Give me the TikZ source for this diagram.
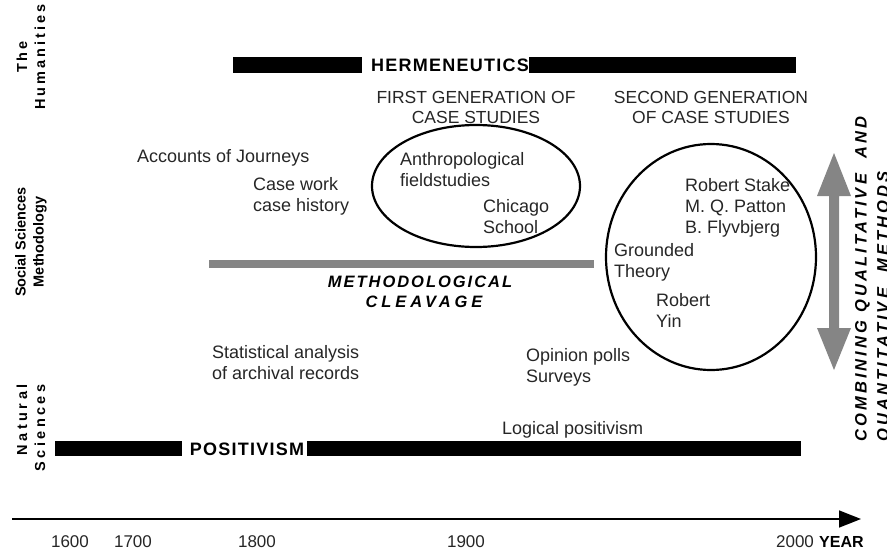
\documentclass[tikz,border=0pt]{standalone}
\usepackage{fontspec}
\setmainfont{Liberation Sans}
\newfontfamily\spacedA[LetterSpace=21]{Liberation Sans}
\newfontfamily\spacedC[LetterSpace=7]{Liberation Sans}
\newfontfamily\spacedD[LetterSpace=12]{Liberation Sans}
\newfontfamily\spacedE[LetterSpace=24]{Liberation Sans}
\newfontfamily\spacedF[LetterSpace=19]{Liberation Sans}
\newfontfamily\spacedG[LetterSpace=24]{Liberation Sans}
\usetikzlibrary{arrows.meta}
\definecolor{txt}{HTML}{262626}
\definecolor{bargray}{HTML}{858585}
\tikzset{
  lbl/.style={font=\fontsize{18}{21}\selectfont, inner sep=0pt, align=left, text=txt, anchor=west},
  head/.style={font=\fontsize{17.5}{20}\selectfont, inner sep=0pt, align=center, text=txt},
  yr/.style={font=\fontsize{17}{20}\selectfont, inner sep=0pt, text=txt},
  side/.style={rotate=90, inner sep=0pt},
  big/.style={font=\spacedC\bfseries\fontsize{18}{20}\selectfont, inner sep=0pt},
  blackbar/.style={fill=black},
  ell/.style={draw=black, line width=2.2pt},
}
\begin{document}
\begin{tikzpicture}[x=1pt,y=-1pt]
\useasboundingbox (0,0) rectangle (887,552);

% side labels
\node[side, align=center, font=\spacedA\bfseries\fontsize{14.5}{18}\selectfont] (hum) at (31,57) {The\\Humanities};
\node[side, align=center, font=\bfseries\fontsize{14.5}{18}\selectfont] (soc) at (31,242) {Social Sciences\\Methodology};
\node[side, align=right, font=\spacedG\bfseries\fontsize{14.5}{18}\selectfont] (nat) at (31,428) {Natural\\Sciences};

% hermeneutics bar
\fill[blackbar] (233,57) rectangle (362,73);
\node[big] (herm) at (450,65) {HERMENEUTICS};
\fill[blackbar] (529,57) rectangle (796,73);

% headings
\node[head] (first) at (476,107) {FIRST GENERATION OF\\CASE STUDIES};
\node[head] (second) at (711,107) {SECOND GENERATION\\OF CASE STUDIES};

% ellipses
\draw[ell] (476,186) ellipse [x radius=104, y radius=61];
\draw[ell] (711,257) ellipse [x radius=105, y radius=113];

% texts
\node[lbl] (acc) at (137,158) {Accounts of Journeys};
\node[lbl] (case) at (253,196) {Case work\\case history};
\node[lbl] (anth) at (400,170) {Anthropological\\fieldstudies};
\node[lbl] (chic) at (483,216.5) {Chicago\\School};
\node[lbl] (stake) at (685,208) {Robert Stake\\M. Q. Patton\\B. Flyvbjerg};
\node[lbl] (gt) at (614,262.5) {Grounded\\Theory};
\node[lbl] (yin) at (656,310) {Robert\\Yin};
\node[lbl] (stat) at (212,362.5) {Statistical analysis\\of archival records};
\node[lbl] (opin) at (526,367) {Opinion polls\\Surveys};
\node[lbl] (logi) at (502,430) {Logical positivism};

% methodological cleavage
\fill[bargray] (209,260) rectangle (594,268);
\node[inner sep=0pt, font=\spacedD\bfseries\itshape\fontsize{16.5}{20}\selectfont] (meth) at (420,282) {METHODOLOGICAL};
\node[inner sep=0pt, font=\spacedE\bfseries\itshape\fontsize{16.5}{20}\selectfont] (cleav) at (424,302) {CLEAVAGE};

% positivism bar
\fill[blackbar] (55,441) rectangle (182,456);
\node[big] (posi) at (247,449) {POSITIVISM};
\fill[blackbar] (307,441) rectangle (801,456);

% double arrow
\fill[bargray] (834,153) -- (851,196) -- (839,196) -- (839,328) -- (851,328)
  -- (834,370) -- (817,328) -- (829,328) -- (829,196) -- (817,196) -- cycle;
\node[rotate=90, anchor=north west, align=left, inner sep=0pt,
  font=\spacedF\bfseries\itshape\fontsize{16.5}{22}\selectfont]
  (comb) at (855,442) {COMBINING QUALITATIVE\ \ AND\\QUANTITATIVE\ \ METHODS};

% time axis
\coordinate (ax0) at (12,519);
\coordinate (ax1) at (861,519);
\draw[line width=1.6pt, -{Triangle[length=22pt,width=17pt]}] (ax0) -- (ax1);
\node[yr] (y1600) at (70,542) {1600};
\node[yr] (y1700) at (133,542) {1700};
\node[yr] (y1800) at (257,542) {1800};
\node[yr] (y1900) at (466,542) {1900};
\node[yr] (y2000) at (795,542) {2000};
\node[inner sep=0pt, anchor=west, font=\bfseries\fontsize{16}{20}\selectfont] (year) at (819,542) {YEAR};
\end{tikzpicture}
\end{document}
